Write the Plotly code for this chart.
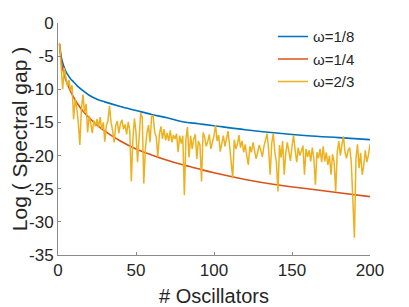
import plotly.graph_objects as go

# smooth curves (sampled x positions)
x_smooth = [1, 2, 3, 4, 5, 6, 8, 10, 12, 15, 20, 25, 30, 40, 50, 60, 70, 80, 90, 100,
            120, 140, 160, 180, 200]
y_w18 = [-3.2, -5.0, -6.0, -6.7, -7.3, -7.7, -8.4, -8.9, -9.4, -10.0, -10.9, -11.5, -11.9,
         -12.6, -13.2, -13.8, -14.3, -14.9, -15.2, -15.5, -16.1, -16.6, -17.0, -17.3, -17.6]
y_w14 = [-3.2, -5.6, -6.9, -7.8, -8.6, -9.2, -10.3, -11.2, -12.0, -13.0, -14.3, -15.4, -16.3,
         -17.8, -19.0, -19.9, -20.7, -21.4, -22.0, -22.6, -23.6, -24.4, -25.0, -25.6, -26.2]

# noisy series, x = 1..200
x_noisy = list(range(1, 201))
y_w23 = [
    -3.0, -6.5, -10.0, -6.8, -8.2, -9.5, -8.6, -10.2, -9.4, -14.5,
    -11.5, -12.8, -15.0, -18.4, -13.0, -10.8, -13.5, -12.2, -16.5, -14.0,
    -15.2, -16.6, -14.7, -15.6, -14.5, -15.7, -14.2, -16.0, -15.0, -17.9,
    -15.5, -14.8, -12.5, -15.0, -16.2, -18.0, -15.5, -14.8, -16.6, -15.2,
    -14.6, -16.0, -15.3, -16.8, -14.9, -16.2, -23.9, -17.5, -14.4, -16.5,
    -21.0, -17.2, -13.6, -14.2, -24.2, -19.0, -16.6, -15.4, -18.0, -14.1,
    -14.0, -16.5, -17.2, -20.2, -16.8, -15.6, -17.5, -16.0, -17.7, -16.6,
    -17.8, -16.2, -18.0, -16.9, -17.5, -16.7, -19.5, -17.0, -18.2, -17.0,
    -26.0, -17.5, -15.7, -20.3, -17.0, -19.0, -17.5, -16.8, -20.5, -17.8,
    -18.4, -23.9, -16.5, -17.2, -18.6, -17.9, -16.8, -19.0, -18.1, -17.0,
    -15.4, -17.8, -16.9, -19.4, -18.2, -17.0, -18.6, -17.4, -16.3, -18.5,
    -20.8, -23.4, -17.6, -19.0, -18.3, -16.9, -18.8, -17.8, -19.5, -18.3,
    -20.0, -21.4, -18.6, -19.5, -18.0, -19.2, -20.5, -19.5, -18.4, -19.2,
    -20.2, -18.6, -17.5, -16.7, -19.0, -22.9, -18.2, -16.6, -19.5, -21.0,
    -25.4, -18.4, -20.3, -17.8, -22.9, -19.6, -18.0, -19.5, -20.8, -18.6,
    -16.9, -19.2, -21.0, -18.8, -20.0, -19.3, -18.5, -22.9, -19.0, -20.2,
    -19.2, -20.9, -18.8, -20.4, -24.4, -19.5, -20.4, -19.0, -21.0, -18.6,
    -20.9, -19.5, -21.4, -20.0, -22.9, -19.8, -21.0, -25.4, -19.5, -17.8,
    -20.0, -18.4, -17.1, -19.5, -20.4, -19.2, -18.8, -21.0, -27.0, -32.4,
    -20.5, -18.3, -21.9, -19.6, -22.9, -21.5, -19.2, -21.0, -19.9, -18.3,
]

x_ticks = [0, 50, 100, 150, 200]
y_ticks = [0, -5, -10, -15, -20, -25, -30, -35]
names = ["ω=1/8", "ω=1/4", "ω=2/3"]
colors = ["#0072BD", "#D95319", "#EDB120"]

fig = go.Figure()
fig.add_trace(go.Scatter(x=x_smooth, y=y_w18, mode="lines", name=names[0],
                         line=dict(color=colors[0], width=1.6, shape="spline")))
fig.add_trace(go.Scatter(x=x_smooth, y=y_w14, mode="lines", name=names[1],
                         line=dict(color=colors[1], width=1.6, shape="spline")))
fig.add_trace(go.Scatter(x=x_noisy, y=y_w23, mode="lines", name=names[2],
                         line=dict(color=colors[2], width=1.5)))

axis_common = dict(
    showgrid=False, zeroline=False, showline=True, linecolor="#8a8a8a", linewidth=1,
    ticks="inside", ticklen=3, tickcolor="#8a8a8a", automargin=False,
    tickfont=dict(family="Liberation Sans, Arial, sans-serif", size=17, color="#262626"),
    mirror=False,
)

# the page body has an 8px default margin, so the figure is 8px smaller than the window
fig.update_layout(
    width=401, height=299,
    margin=dict(l=50, r=39, t=15, b=52),
    paper_bgcolor="white", plot_bgcolor="white",
    font=dict(family="Liberation Sans, Arial, sans-serif", color="#262626"),
    xaxis=dict(range=[0, 200], tickvals=x_ticks, ticktext=[str(v) for v in x_ticks],
               title=dict(text="# Oscillators", font=dict(size=20, color="#262626"), standoff=9),
               **axis_common),
    yaxis=dict(range=[-35, 0], tickvals=y_ticks, ticktext=[str(v) for v in y_ticks],
               title=dict(text="Log ( Spectral gap )", font=dict(size=21, color="#262626"), standoff=0),
               **axis_common),
    legend=dict(x=0.689, y=1.012, xanchor="left", yanchor="top", bgcolor="rgba(0,0,0,0)",
                borderwidth=0, font=dict(size=15, color="#262626"), tracegroupgap=0,
                itemwidth=30),
    showlegend=True,
)

fig.write_html("out.html")
